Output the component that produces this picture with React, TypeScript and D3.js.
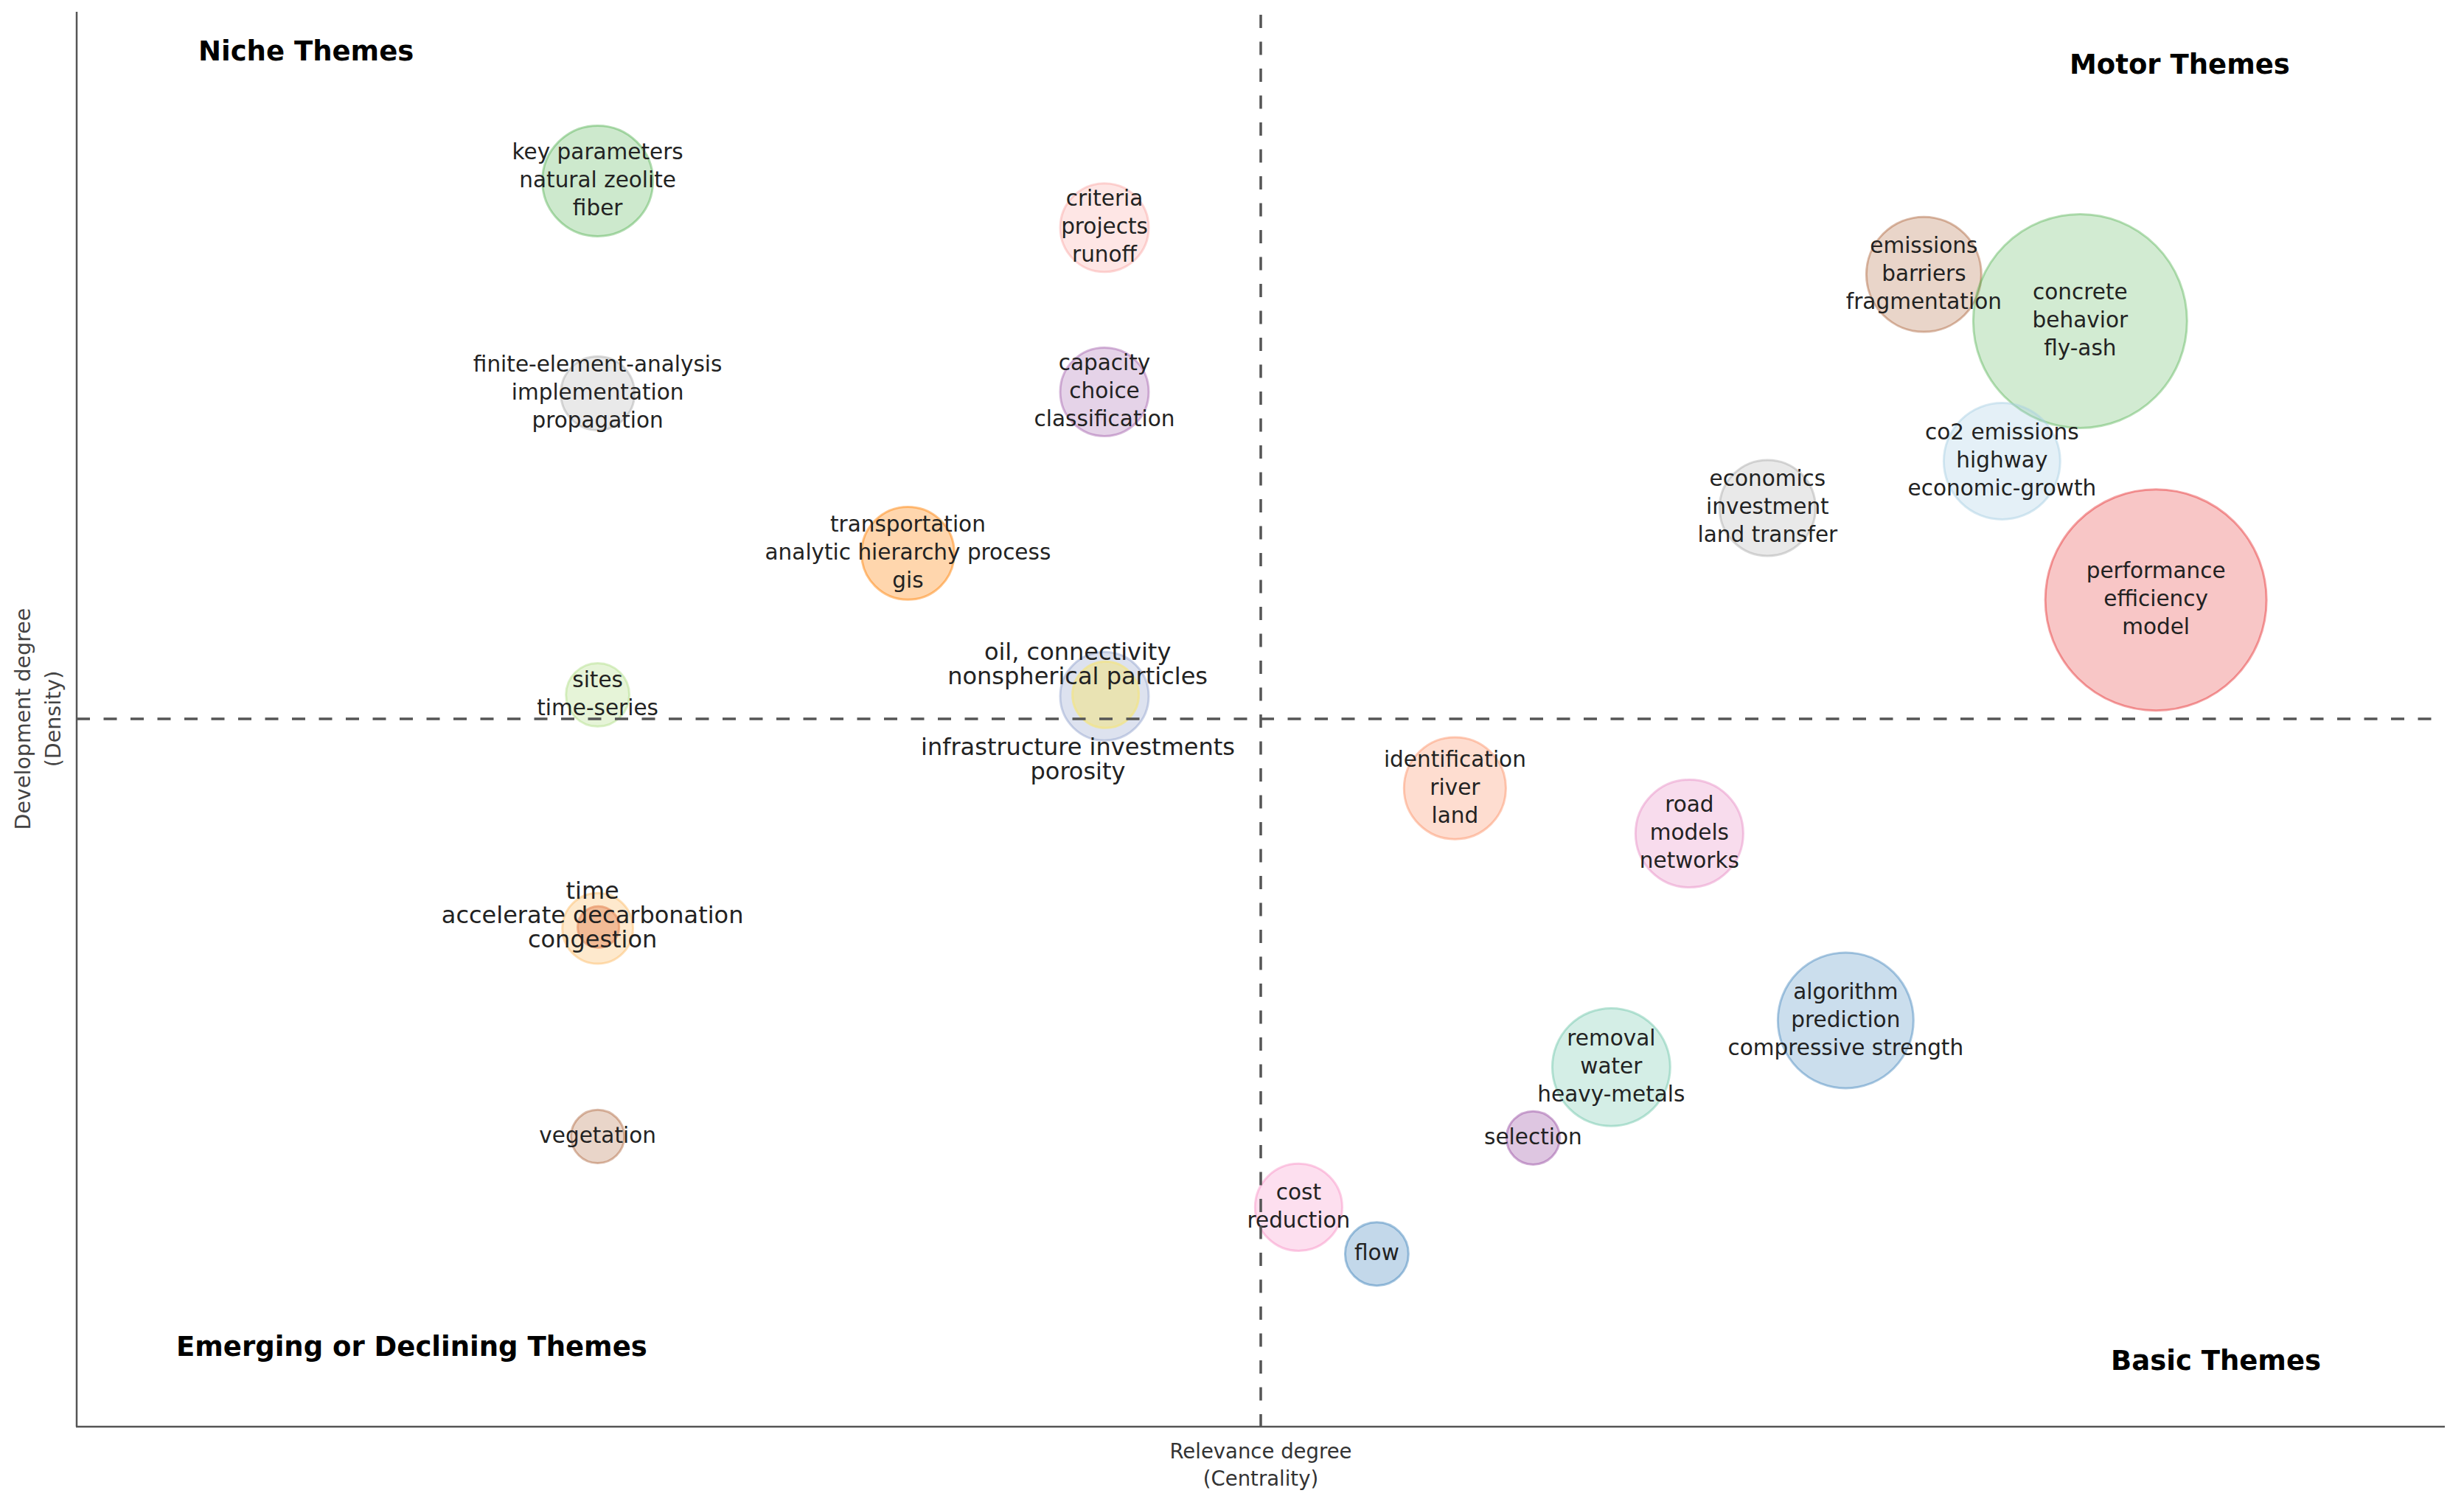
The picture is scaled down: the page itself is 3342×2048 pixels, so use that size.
import React from "react";
import * as d3 from "d3";

// ---- data ----
const clusterNames = [
  "key parameters", "criteria", "finite-element-analysis", "capacity", "transportation",
  "infrastructure investments", "oil, connectivity", "sites", "time", "time (core)",
  "vegetation", "emissions", "concrete", "co2 emissions", "economics", "performance",
  "identification", "road", "algorithm", "removal", "selection", "cost", "flow",
];
const clusterLabels: string[][] = [
  ["key parameters", "natural zeolite", "fiber"],
  ["criteria", "projects", "runoff"],
  ["finite-element-analysis", "implementation", "propagation"],
  ["capacity", "choice", "classification"],
  ["transportation", "analytic hierarchy process", "gis"],
  ["infrastructure investments", "porosity"],
  ["oil, connectivity", "nonspherical particles"],
  ["sites", "time-series"],
  ["time", "accelerate decarbonation", "congestion"],
  [],
  ["vegetation"],
  ["emissions", "barriers", "fragmentation"],
  ["concrete", "behavior", "fly-ash"],
  ["co2 emissions", "highway", "economic-growth"],
  ["economics", "investment", "land transfer"],
  ["performance", "efficiency", "model"],
  ["identification", "river", "land"],
  ["road", "models", "networks"],
  ["algorithm", "prediction", "compressive strength"],
  ["removal", "water", "heavy-metals"],
  ["selection"],
  ["cost", "reduction"],
  ["flow"],
];
// Relevance degree (centrality), rescaled 0-100
const centrality = [
  22.0, 43.4, 22.0, 43.4, 35.1, 43.4, 43.45, 22.0, 22.0, 22.03,
  22.0, 78.0, 84.6, 81.3, 71.4, 87.8, 58.2, 68.1, 74.7, 64.8, 61.5, 51.6, 54.9,
];
// Development degree (density), rescaled 0-100
const density = [
  88.0, 84.7, 73.0, 73.1, 61.7, 51.6, 51.7, 51.7, 35.2, 35.3,
  20.5, 81.4, 78.1, 68.2, 64.9, 58.4, 45.1, 41.9, 28.7, 25.4, 20.4, 15.5, 12.2,
];
// cluster frequency (relative)
const frequency = [
  25, 16, 11.1, 16, 17.6, 16, 9, 8.2, 10.2, 3.5,
  5.8, 27, 93.4, 27.7, 18.8, 100, 21.2, 23.7, 37.6, 28.4, 5.8, 15.5, 8.2,
];
const meanCentrality = 50;
const meanDensity = 50;
const quadrantNames = ["Niche Themes", "Motor Themes", "Emerging or Declining Themes", "Basic Themes"];
const xTitle = ["Relevance degree", "(Centrality)"];
const yTitle = ["Development degree", "(Density)"];

// ---- styles ----
const clusterColors = [
  "#4DAF4A", "#FB9A99", "#999999", "#984EA3", "#FF7F00",
  "#8DA0CB", "#F2E48A", "#B2DF8A", "#FDBF6F", "#E8956A",
  "#A65628", "#A65628", "#4DAF4A", "#A6CEE3", "#999999", "#E41A1C",
  "#FC8D62", "#E78AC3", "#377EB8", "#66C2A5", "#984EA3", "#F781BF", "#377EB8",
];
const clusterOpacity = [
  0.28, 0.25, 0.22, 0.25, 0.32,
  0.3, 0.6, 0.33, 0.35, 0.55,
  0.25, 0.25, 0.25, 0.3, 0.22, 0.25,
  0.3, 0.3, 0.26, 0.28, 0.32, 0.25, 0.3,
];
// special label placements (repelled labels), in pixels relative to bubble
const labelLayout: Record<string, { dx: number; dy: number; fs: number; lh: number }> = {
  "oil, connectivity": { dx: -38, dy: -40, fs: 32, lh: 33 },
  "infrastructure investments": { dx: -36, dy: 87, fs: 32, lh: 33 },
  "time": { dx: -7, dy: -16, fs: 32, lh: 33 },
};

const W = 3342;
const H = 2048;
const FONT = "'DejaVu Sans', Verdana, sans-serif";

export default function App() {
  const x = d3.scaleLinear().domain([0, 100]).range([104, 3316]);
  const y = d3.scaleLinear().domain([0, 100]).range([1935, 15]);
  const r = d3.scaleSqrt().domain([0, 100]).range([0, 150]);

  const items = clusterNames.map((name, i) => ({
    name,
    lines: clusterLabels[i],
    cx: x(centrality[i]),
    cy: y(density[i]),
    rad: r(frequency[i]),
    color: clusterColors[i],
    op: clusterOpacity[i],
  }));

  const vx = x(meanCentrality);
  const hy = y(meanDensity);

  return (
    <svg
      width={W}
      height={H}
      style={{ position: "absolute", left: 0, top: 0, display: "block", background: "#fff" }}
      fontFamily={FONT}
    >
      <rect x={0} y={0} width={W} height={H} fill="#fff" />
      {/* bubbles */}
      <g>
        {items.map((d) => (
          <circle
            key={d.name}
            cx={d.cx}
            cy={d.cy}
            r={d.rad}
            fill={d.color}
            fillOpacity={d.op}
            stroke={d.color}
            strokeOpacity={Math.min(1, d.op + 0.15)}
            strokeWidth={3}
          />
        ))}
      </g>
      {/* labels */}
      <g fill="#222">
        {items.map((d) => {
          const lay = labelLayout[d.name] || { dx: 0, dy: 0, fs: 29.5, lh: 38 };
          const n = d.lines.length;
          return (
            <text key={d.name} fontSize={lay.fs} textAnchor="middle">
              {d.lines.map((line, i) => (
                <tspan
                  key={i}
                  x={d.cx + lay.dx}
                  y={d.cy + lay.dy + (i - (n - 1) / 2) * lay.lh + 0.29 * lay.fs}
                >
                  {line}
                </tspan>
              ))}
            </text>
          );
        })}
      </g>
      {/* axes */}
      <line x1={104} x2={104} y1={16} y2={1935} stroke="#555" strokeWidth={2.5} />
      <line x1={103} x2={3316} y1={1935} y2={1935} stroke="#555" strokeWidth={2.5} />
      {/* mean lines */}
      <line x1={vx} x2={vx} y1={20} y2={1935} stroke="#555" strokeWidth={3.5} strokeDasharray="18,18.5" />
      <line x1={104} x2={3316} y1={hy} y2={hy} stroke="#555" strokeWidth={3.5} strokeDasharray="18,18.5" />
      {/* quadrant names */}
      <g fontWeight="bold" fontSize={37} fill="#000">
        <text x={269} y={82}>{quadrantNames[0]}</text>
        <text x={2807} y={100}>{quadrantNames[1]}</text>
        <text x={239} y={1839}>{quadrantNames[2]}</text>
        <text x={2863} y={1858}>{quadrantNames[3]}</text>
      </g>
      {/* axis titles */}
      <g fill="#333" fontSize={27.5} textAnchor="middle">
        <text x={vx} y={1978}>{xTitle[0]}</text>
        <text x={vx} y={2015}>{xTitle[1]}</text>
      </g>
      <g fill="#444" fontSize={28.5} textAnchor="middle">
        <text transform={`translate(41,${y(50)}) rotate(-90)`}>{yTitle[0]}</text>
        <text transform={`translate(82,${y(50)}) rotate(-90)`}>{yTitle[1]}</text>
      </g>
    </svg>
  );
}
